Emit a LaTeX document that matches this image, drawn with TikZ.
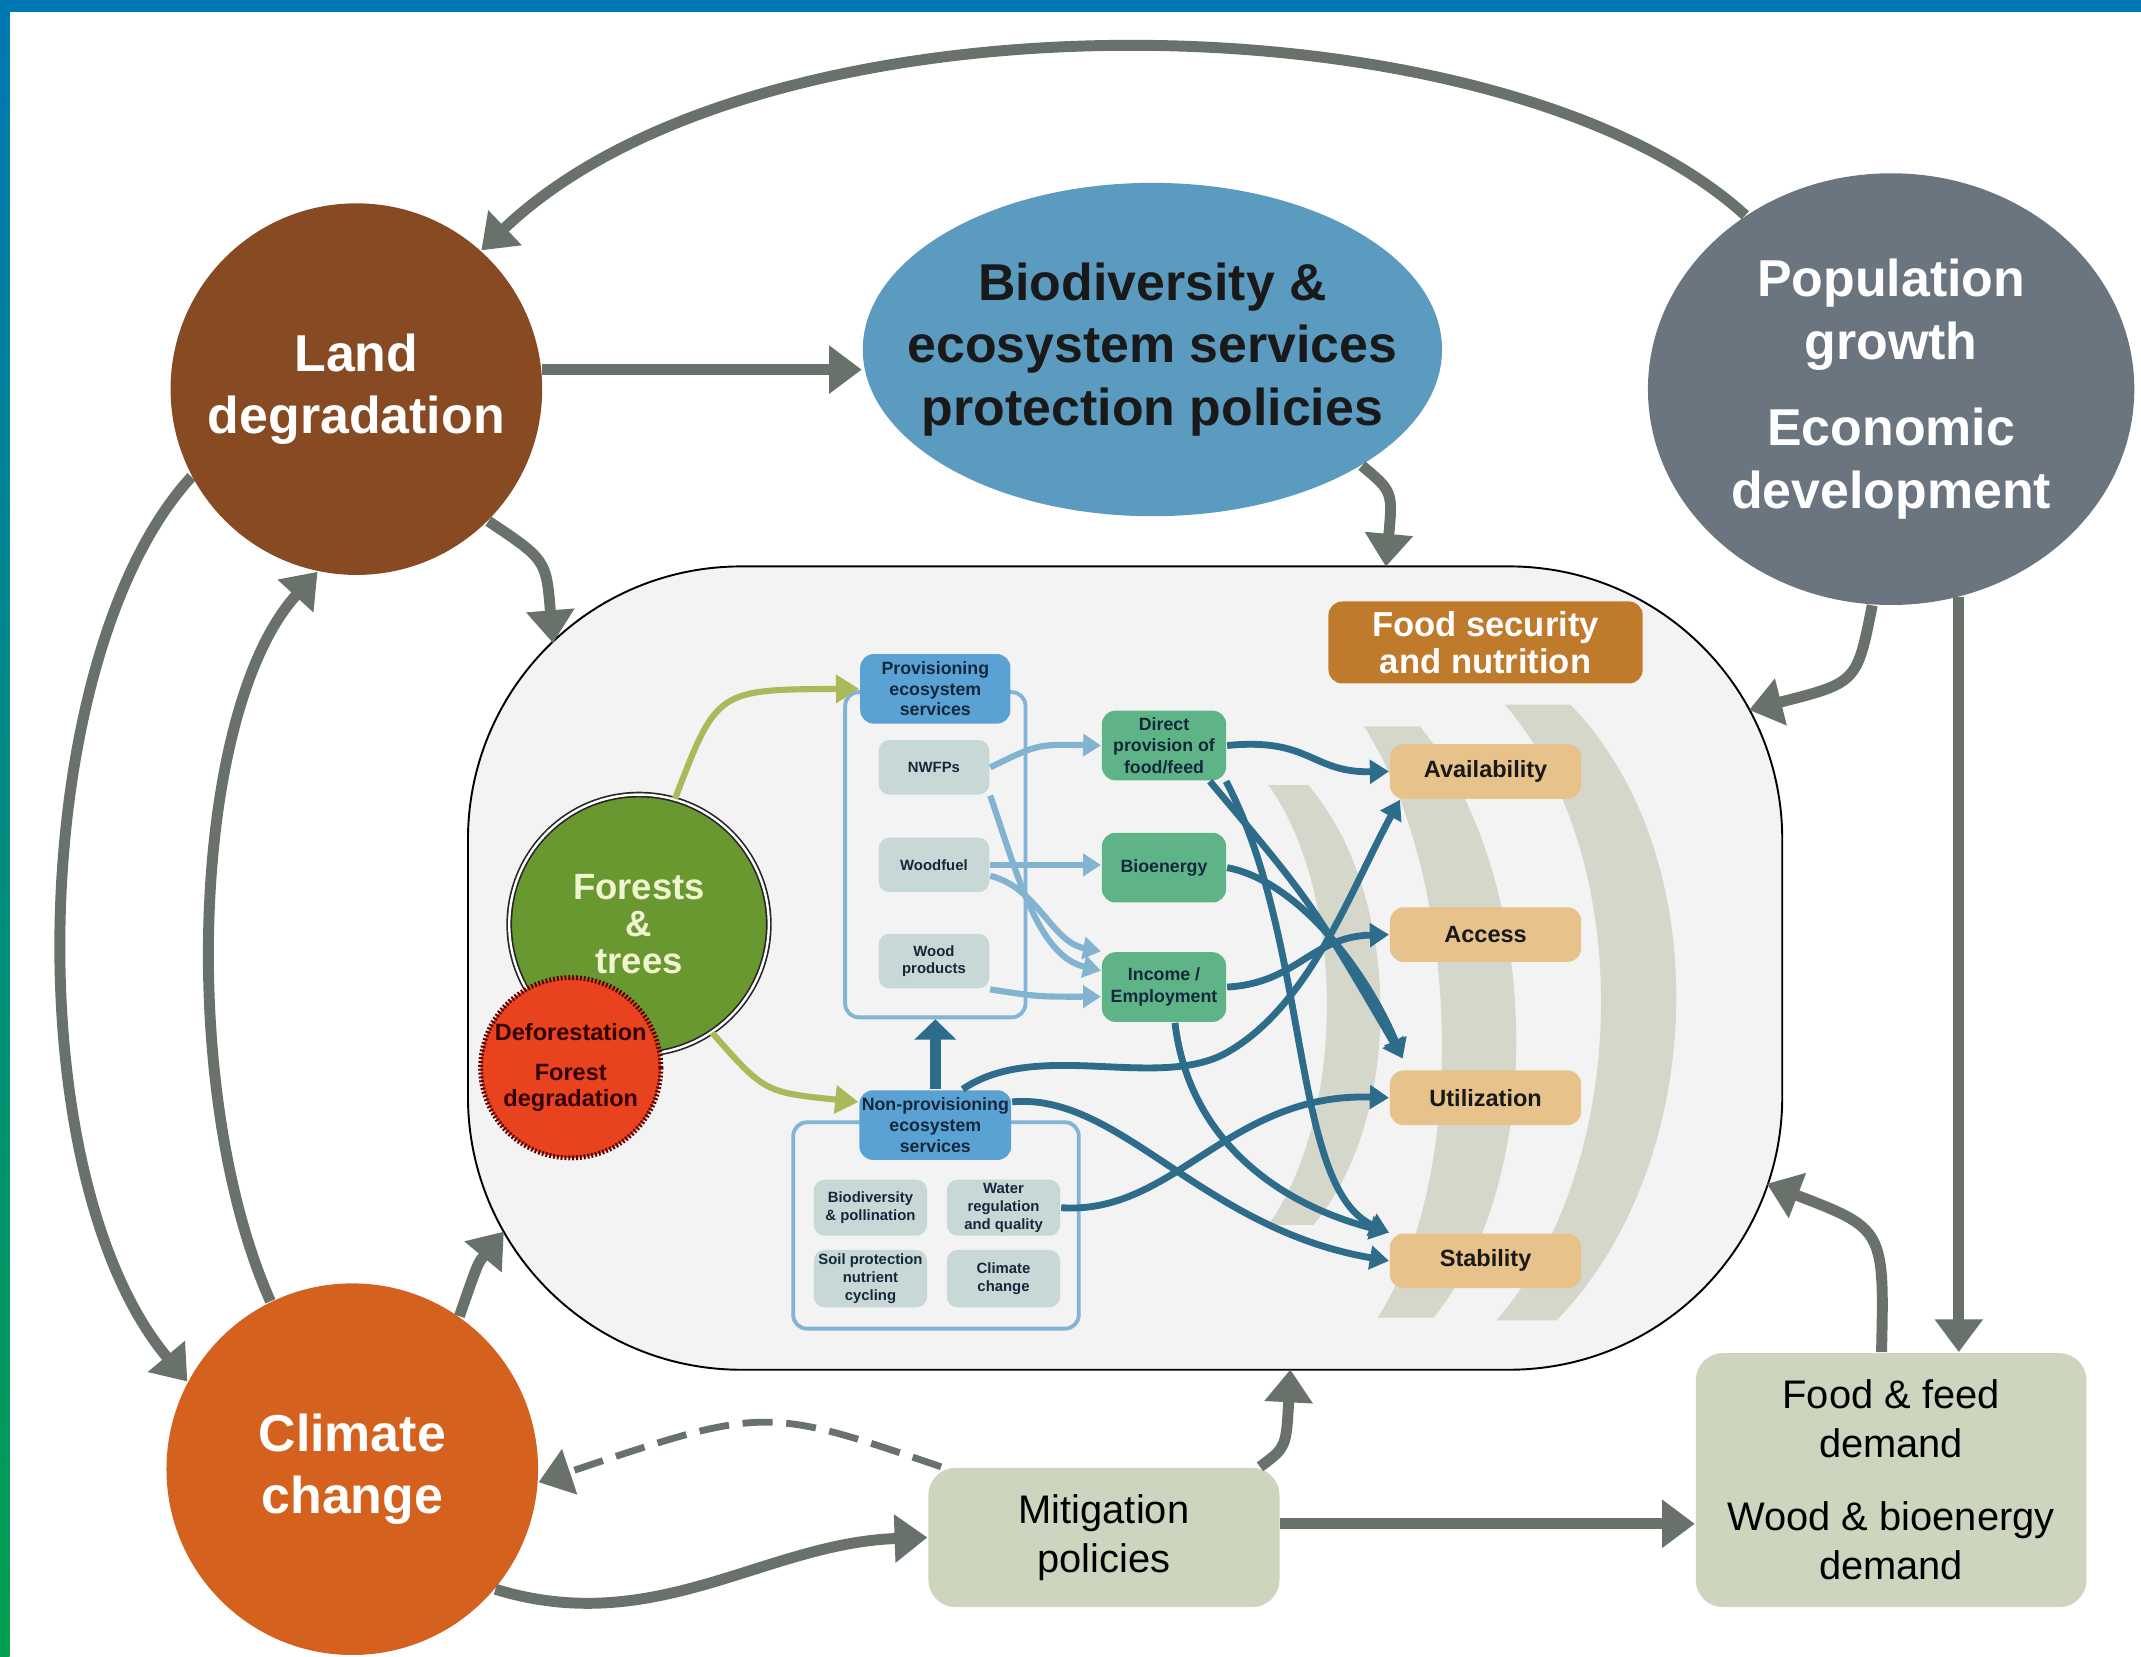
\documentclass[tikz,border=0pt]{standalone}
\usepackage{fontspec}
\setmainfont{Liberation Sans}
\usetikzlibrary{arrows.meta,positioning,shapes}

\definecolor{esablue}{HTML}{0078B4}
\definecolor{esagreen}{HTML}{00A050}
\definecolor{landbrown}{HTML}{874A22}
\definecolor{biodivblue}{HTML}{5B9BC0}
\definecolor{popgrey}{HTML}{6B7580}
\definecolor{climorange}{HTML}{D4621E}
\definecolor{drivergrey}{HTML}{69726A}
\definecolor{panelgrey}{HTML}{F3F3F3}
\definecolor{sage}{HTML}{CDD5BE}
\definecolor{fsnbrown}{HTML}{BF7A2C}
\definecolor{pillartan}{HTML}{E7C28A}
\definecolor{bandgrey}{HTML}{D5D7CB}
\definecolor{forestgreen}{HTML}{6A9830}
\definecolor{forestcream}{HTML}{F0F5D0}
\definecolor{deforred}{HTML}{E8421E}
\definecolor{esheadblue}{HTML}{5AA2D4}
\definecolor{esframeblue}{HTML}{82B4D7}
\definecolor{esitemgrey}{HTML}{C8D8D6}
\definecolor{pathgreen}{HTML}{5FB487}
\definecolor{linkteal}{HTML}{2D6C8A}
\definecolor{linklight}{HTML}{82B4D2}
\definecolor{linkolive}{HTML}{AAB95A}
\definecolor{navytext}{HTML}{14283C}

\begin{document}
\begin{tikzpicture}[x=0.01cm, y=-0.01cm]
	\tikzstyle{driver}
	  =[circle, inner sep=0pt, text=white, align=center,
	  font=\fontsize{10.8}{13}\selectfont\bfseries]
	\tikzstyle{demandbox}
	  =[fill=sage, rounded corners=0.2cm, align=center,
	  font=\fontsize{8.3}{10.2}\selectfont]
	\tikzstyle{esframe}
	  =[draw=esframeblue, line width=0.8pt, rounded corners=0.1cm]
	\tikzstyle{eshead}
	  =[fill=esheadblue, rounded corners=0.1cm, minimum width=1.1cm,
	  minimum height=0.51cm, inner sep=0.5pt, text=navytext, align=center,
	  font=\fontsize{3.7}{4.3}\selectfont\bfseries]
	\tikzstyle{esitem}
	  =[fill=esitemgrey, rounded corners=0.08cm, minimum width=0.81cm,
	  minimum height=0.4cm, inner sep=0.5pt, text=navytext, align=center,
	  font=\fontsize{3.1}{3.7}\selectfont\bfseries]
	\tikzstyle{pathway}
	  =[fill=pathgreen, rounded corners=0.1cm, minimum width=0.91cm,
	  minimum height=0.51cm, inner sep=0.5pt, text=navytext, align=center,
	  font=\fontsize{3.7}{4.5}\selectfont\bfseries]
	\tikzstyle{pillar}
	  =[fill=pillartan, rounded corners=0.1cm, minimum width=1.4cm,
	  minimum height=0.4cm, text=black!90,
	  font=\fontsize{4.9}{5.5}\selectfont\bfseries]
	\tikzstyle{pressure}
	  =[draw=drivergrey, line width=0.08cm,
	  -{Triangle[length=0.24cm, width=0.34cm]}]
	\tikzstyle{tealflow}
	  =[draw=linkteal, line width=0.05cm,
	  -{Triangle[length=0.14cm, width=0.17cm]}]
	\tikzstyle{blueflow}
	  =[draw=linklight, line width=0.045cm,
	  -{Triangle[length=0.13cm, width=0.16cm]}]
	\tikzstyle{oliveflow}
	  =[draw=linkolive, line width=0.045cm,
	  -{Triangle[length=0.17cm, width=0.2cm]}]

	\useasboundingbox (0,0) rectangle (1568,1213);
	\clip (0,0) rectangle (1568,1213);
	\fill[esablue] (0,0) rectangle (1568,9);
	\shade[top color=esablue, middle color=esablue, bottom color=esagreen]
	  (0,0) rectangle (7,1213);

	\node[draw, line width=0.4pt, fill=panelgrey, rounded corners=2cm,
	  minimum width=9.62cm, minimum height=5.88cm] (System)
	  at (824,709) {};
	\coordinate (LandIn) at (405,471);
	\coordinate (BiodivIn) at (1015,415);
	\coordinate (PopIn) at (1281,520);
	\coordinate (DemandIn) at (1294,867);
	\coordinate (MitigIn) at (945,1003);
	\coordinate (ClimateIn) at (369,902);

	\fill[bandgrey] (929,575) .. controls (986,655) and (986,817) .. (929,897)
	  -- (962,897) .. controls (1029,817) and (1027,655) .. (958,575) -- cycle;
	\fill[bandgrey] (999,532) .. controls (1068,640) and (1078,857) .. (1009,965)
	  -- (1050,965) .. controls (1137,857) and (1127,640) .. (1040,532) -- cycle;
	\fill[bandgrey] (1102,516) .. controls (1200,629) and (1194,854) .. (1096,967)
	  -- (1140,967) .. controls (1250,854) and (1260,629) .. (1150,516) -- cycle;

	\node[driver, fill=landbrown, minimum size=2.72cm] (LandDeg)
	  at (261,285) {Land\\degradation};
	\node[driver, fill=climorange, minimum size=2.72cm] (Climate)
	  at (258,1076) {Climate\\change};
	\node[ellipse, fill=biodivblue, minimum width=4.24cm,
	  minimum height=2.44cm] (Biodiv)
	  at (844,256) {};
	\node[driver, rectangle, text=black!90] (BiodivText)
	  at (Biodiv.center) {Biodiversity \&\\ecosystem services\\protection policies};
	\node[driver, ellipse, fill=popgrey, minimum width=3.56cm,
	  minimum height=3.16cm] (PopGrowth)
	  at (1385,285) {Population\\growth\\[5pt]Economic\\development};
	\node[demandbox, minimum width=2.57cm, minimum height=1.02cm] (Mitig)
	  at (808.5,1126) {Mitigation\\policies};
	\node[demandbox, minimum width=2.86cm, minimum height=1.86cm] (Demand)
	  at (1385,1084) {Food \& feed\\demand\\[5pt]Wood \& bioenergy\\demand};

	\node[esframe, minimum width=1.32cm, minimum height=2.38cm] (ProvFrame)
	  at (685,626) {};
	\node[esframe, minimum width=2.09cm, minimum height=1.51cm] (NonProvFrame)
	  at (685.5,897.5) {};
	\node[eshead] (ProvES)
	  at (685,504.5) {Provisioning\\ecosystem\\services};
	\node[eshead] (NonProvES)
	  at (685,824) {Non-provisioning\\ecosystem\\services};

	\node[esitem] (NWFP)
	  at (684,562) {NWFPs};
	\node[esitem] (Woodfuel)
	  [below=0.3cm of NWFP] {Woodfuel};
	\node[esitem] (WoodProd)
	  [below=0.29cm of Woodfuel] {Wood\\products};

	\node[esitem, minimum width=0.83cm, minimum height=0.41cm] (BiodivPoll)
	  at (637.5,884.5) {Biodiversity\\\& pollination};
	\node[esitem, minimum width=0.83cm, minimum height=0.41cm] (Water)
	  [right=0.13cm of BiodivPoll] {Water\\regulation\\and quality};
	\node[esitem, minimum width=0.83cm, minimum height=0.42cm] (Soil)
	  [below=0.09cm of BiodivPoll] {Soil protection\\nutrient\\cycling};
	\node[esitem, minimum width=0.83cm, minimum height=0.42cm] (ClimReg)
	  [right=0.13cm of Soil] {Climate\\change};

	\node[pathway] (Direct)
	  at (852.5,546) {Direct\\provision of\\food/feed};
	\node[pathway] (Bioenergy)
	  [below=0.37cm of Direct] {Bioenergy};
	\node[pathway] (Income)
	  [below=0.35cm of Bioenergy] {Income /\\Employment};

	\node[pillar] (Avail)
	  at (1088,565) {Availability};
	\node[pillar] (Access)
	  [below=0.78cm of Avail] {Access};
	\node[pillar] (Util)
	  [below=0.78cm of Access] {Utilization};
	\node[pillar] (Stab)
	  [below=0.78cm of Util] {Stability};
	\node[fill=fsnbrown, rounded corners=0.1cm, minimum width=2.3cm,
	  minimum height=0.6cm, inner sep=1pt, text=white, align=center,
	  font=\fontsize{7.2}{7.8}\selectfont\bfseries] (FSN)
	  [above=0.43cm of Avail] {Food security\\and nutrition};

	\node[circle, fill=forestgreen, draw=black!85, double=white,
	  double distance=0.5pt, line width=0.35pt, minimum size=1.9cm,
	  inner sep=0pt, text=forestcream, align=center,
	  font=\fontsize{7.6}{7.7}\selectfont\bfseries] (Forests)
	  at (468,677) {Forests\\\&\\trees};
	\node[circle, fill=deforred, draw=red!35!black, line width=1pt,
	  dash pattern=on 0.4pt off 0.4pt, minimum size=1.32cm, inner sep=0pt,
	  text=red!20!black, align=center,
	  font=\fontsize{4.9}{5.4}\selectfont\bfseries] (Defor)
	  at (418,782) {Deforestation\\[3pt]Forest\\degradation};

	\draw[oliveflow] (Forests.74) .. controls (525,505) .. (ProvES.west);
	\draw[oliveflow] (Forests.-56) .. controls (560,800) .. ([yshift=0.17cm]NonProvES.west);

	\draw[blueflow] (NWFP.east) .. controls (760,545) .. (Direct.west);
	\draw[blueflow] (NWFP.south east) .. controls (745,640) and (760,700)
	  .. ([yshift=0.12cm]Income.west);
	\draw[blueflow] (Woodfuel.east) -- (Woodfuel.east -| Bioenergy.west);
	\draw[blueflow] ([yshift=-0.08cm]Woodfuel.east) .. controls (760,650) and (770,690)
	  .. (Income.north west);
	\draw[blueflow] (WoodProd.south east) .. controls (760,730)
	  .. ([yshift=-0.07cm]Income.west);
	\draw[tealflow, line width=0.08cm, -{Triangle[length=0.15cm, width=0.3cm]}]
	  (NonProvES.north) -- (ProvFrame.south);

	\draw[tealflow] (Direct.east) .. controls (960,540) and (960,566) .. (Avail.west);
	\draw[tealflow] (Direct.-38) .. controls (960,660)
	  .. ([shift={(0.1cm,0.08cm)}]Util.north west);
	\draw[tealflow] (Bioenergy.east) .. controls (950,645) and (1000,710)
	  .. ([shift={(0.1cm,0.08cm)}]Util.north west);
	\draw[tealflow] (Direct.-30) .. controls (960,690) and (945,870) .. (Stab.north west);
	\draw[tealflow] (Income.east) .. controls (950,720) and (960,686) .. (Access.west);
	\draw[tealflow] ([xshift=0.08cm]Income.south) .. controls (870,830) and (930,880)
	  .. (Stab.north west);
	\draw[tealflow] ([xshift=0.2cm]NonProvES.north) .. controls (760,760) and (850,800)
	  .. (900,770) .. controls (960,735) and (990,650) .. ([xshift=0.08cm]Avail.south west);
	\draw[tealflow] ([yshift=0.17cm]NonProvES.east) .. controls (820,800) and (880,900)
	  .. (Stab.west);
	\draw[tealflow] (Water.east) .. controls (860,890) and (900,800) .. (Util.west);

	\coordinate (MitigOut) at ([yshift=0.1cm]Mitig.east);
	\draw[pressure] (PopGrowth.130) .. controls (1100,-5) and (560,-15) .. (LandDeg.48);
	\draw[pressure] (LandDeg.6) -- (LandDeg.6 -| Biodiv.west);
	\draw[pressure] (Biodiv.-29) .. controls (1020,360) .. (BiodivIn);
	\draw[pressure] (LandDeg.-45) .. controls (400,410) .. (LandIn);
	\draw[pressure] (PopGrowth.-95) .. controls (1360,500) .. (PopIn);
	\draw[pressure] (PopGrowth.-72) -- (PopGrowth.-72 |- Demand.north);
	\draw[pressure] ([xshift=-0.07cm]Demand.north) .. controls (1380,900) .. (DemandIn);
	\draw[pressure] (MitigOut) -- (MitigOut -| Demand.west);
	\draw[pressure] ([xshift=-0.15cm]Mitig.north east) .. controls (942,1060) .. (MitigIn);
	\draw[pressure, line width=0.05cm, dash pattern=on 0.22cm off 0.1cm]
	  ([xshift=0.1cm]Mitig.north west) .. controls (560,1030) .. (Climate.-4);
	\draw[pressure] (Climate.-40) .. controls (480,1200) and (560,1130) .. (Mitig.west);
	\draw[pressure] (Climate.55) .. controls (350,925) .. (ClimateIn);
	\draw[pressure] (LandDeg.208) .. controls (20,480) and (10,860) .. (Climate.152);
	\draw[pressure] (Climate.116) .. controls (130,800) and (140,520) .. (LandDeg.258);
\end{tikzpicture}
\end{document}
